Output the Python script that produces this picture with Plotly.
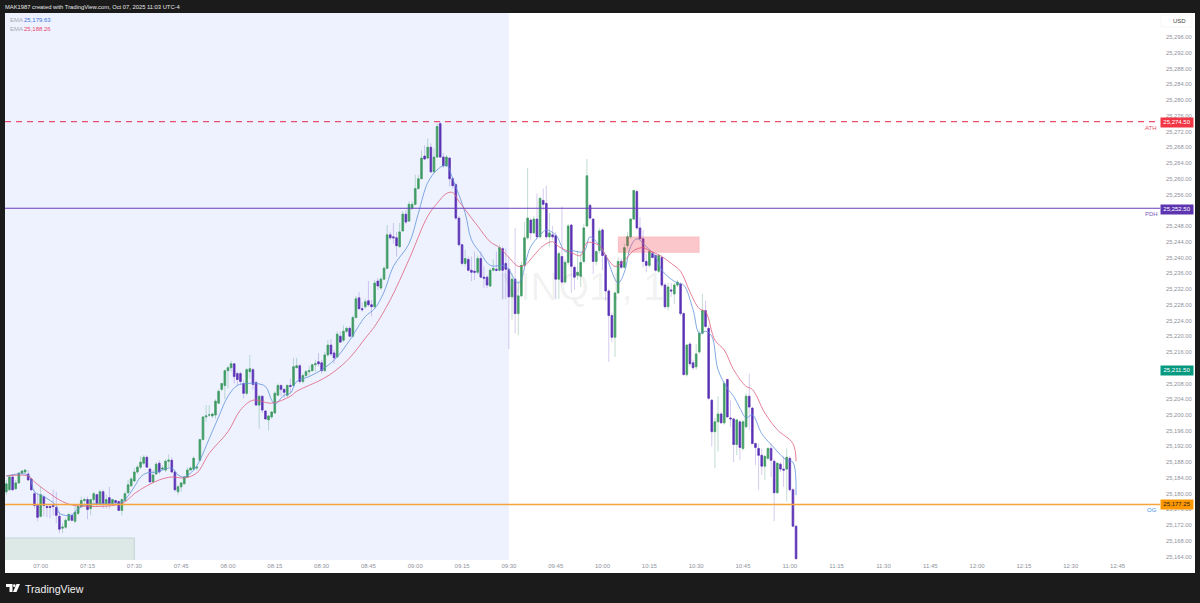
import pandas as pd
import plotly.graph_objects as go

# 1 minute bars, first one at 06:49
opens = [25180.5,25181.0,25184.25,25181.25,25182.75,25185.25,25185.5,25185.0,25183.75,25180.0,
25177.0,25174.25,25179.25,25176.75,25176.75,25177.0,25176.5,25174.25,25171.25,25171.5,
25173.25,25174.5,25173.0,25175.0,25176.75,25178.25,25178.5,25176.25,25178.5,25179.75,
25177.5,25180.5,25177.5,25179.0,25177.5,25178.25,25178.0,25175.75,25178.25,25180.25,
25182.0,25183.25,25185.5,25186.75,25187.75,25189.25,25186.25,25183.0,25185.0,25187.75,
25186.25,25186.0,25188.25,25188.5,25185.5,25180.5,25181.75,25182.5,25184.25,25186.0,
25186.25,25186.5,25188.5,25193.75,25199.5,25200.0,25199.75,25200.0,25203.0,25206.5,
25207.5,25211.25,25212.0,25213.0,25210.5,25210.5,25208.0,25205.5,25211.0,25211.5,
25208.25,25202.5,25204.75,25201.0,25198.75,25199.5,25200.5,25205.0,25207.5,25206.5,
25205.0,25207.5,25207.5,25212.0,25212.5,25208.5,25210.0,25211.0,25211.25,25212.75,
25213.5,25213.25,25211.25,25215.25,25217.75,25215.75,25214.75,25220.0,25219.0,25221.25,
25222.0,25220.0,25224.75,25229.75,25227.0,25227.5,25229.0,25228.0,25227.5,25234.0,
25232.25,25234.5,25237.25,25245.75,25245.25,25245.0,25242.75,25246.75,25251.0,25249.25,
25252.5,25253.5,25257.5,25260.0,25265.75,25265.25,25268.0,25261.75,25265.5,25274.0,
25265.5,25263.25,25265.25,25260.0,25258.5,25250.0,25243.25,25238.5,25239.5,25236.75,
25236.5,25236.25,25239.75,25235.0,25235.0,25232.75,25236.75,25237.0,25236.75,25242.25,
25238.5,25237.0,25230.0,25234.5,25225.75,25230.25,25238.0,25245.0,25249.5,25246.25,
25249.75,25245.25,25254.5,25253.75,25245.25,25245.75,25245.5,25234.5,25240.25,25233.75,
25238.75,25248.25,25237.5,25235.5,25235.25,25239.0,25248.0,25253.25,25249.75,25239.0,
25241.75,25247.0,25240.5,25231.5,25225.25,25219.75,25231.0,25239.0,25237.5,25243.0,
25245.25,25249.75,25256.75,25247.5,25244.75,25239.0,25238.0,25241.0,25240.5,25236.5,
25240.0,25233.0,25227.5,25231.75,25230.75,25233.0,25233.25,25225.75,25210.25,25218.0,
25213.25,25212.25,25216.0,25220.75,25226.5,25222.0,25203.75,25195.75,25198.25,25200.25,
25198.0,25209.0,25199.25,25199.0,25192.5,25198.25,25191.5,25197.0,25204.75,25201.75,
25192.75,25191.5,25189.75,25187.0,25189.0,25191.5,25188.25,25180.25,25187.5,25186.25,
25186.25,25189.0,25181.0,25171.75]
highs = [25183.5,25184.5,25184.5,25183.5,25185.5,25186.0,25186.25,25186.0,25184.0,25181.0,
25180.0,25181.75,25179.75,25177.5,25177.5,25181.0,25180.5,25175.5,25172.5,25173.75,
25175.0,25175.0,25177.0,25177.0,25179.25,25179.0,25179.25,25178.5,25180.5,25180.0,
25181.0,25181.0,25179.75,25181.75,25178.75,25178.5,25178.25,25178.75,25180.5,25183.5,
25184.25,25186.5,25187.25,25189.5,25189.75,25189.75,25186.75,25186.0,25188.0,25188.5,
25187.25,25188.75,25190.0,25189.25,25186.0,25182.25,25183.0,25184.5,25186.75,25187.0,
25189.5,25187.0,25194.0,25199.75,25202.5,25202.5,25200.5,25204.0,25206.5,25208.0,
25211.5,25212.5,25213.75,25213.0,25211.0,25211.0,25208.75,25212.0,25215.25,25212.0,
25208.75,25205.0,25205.0,25201.25,25200.0,25201.0,25206.0,25208.0,25207.75,25206.75,
25207.75,25209.25,25214.5,25214.5,25213.0,25210.5,25211.5,25212.5,25213.0,25214.0,
25215.75,25214.0,25216.0,25219.0,25219.25,25216.5,25221.25,25221.25,25222.75,25222.5,
25222.5,25225.25,25230.25,25231.25,25228.5,25229.5,25234.0,25229.25,25234.25,25234.75,
25235.0,25237.75,25248.25,25246.5,25248.75,25246.5,25248.75,25251.75,25252.0,25254.25,
25254.25,25261.0,25261.0,25267.25,25268.5,25270.25,25269.0,25267.75,25274.0,25274.5,
25266.5,25266.0,25265.5,25260.5,25259.0,25250.5,25243.5,25242.0,25240.25,25240.25,
25241.5,25240.5,25241.5,25237.75,25235.5,25237.25,25239.5,25241.5,25243.25,25242.75,
25242.25,25240.25,25236.0,25247.5,25234.0,25239.0,25249.0,25262.75,25250.0,25250.5,
25256.25,25255.5,25257.5,25258.25,25251.25,25248.0,25246.5,25241.5,25253.0,25239.5,
25248.5,25248.5,25238.0,25241.75,25241.0,25248.5,25265.0,25253.75,25250.0,25241.75,
25247.5,25247.5,25241.0,25232.0,25226.0,25231.25,25240.0,25239.75,25243.5,25246.5,
25250.0,25257.25,25257.25,25250.25,25247.0,25241.0,25242.0,25241.5,25241.0,25241.0,
25240.5,25233.5,25233.5,25233.5,25233.5,25234.25,25233.75,25226.25,25218.0,25218.5,
25214.0,25218.0,25221.5,25230.75,25229.0,25222.75,25204.0,25199.25,25204.75,25200.75,
25208.5,25209.25,25203.75,25199.25,25199.0,25198.75,25198.75,25205.5,25210.5,25202.0,
25193.0,25192.75,25191.5,25189.75,25191.75,25192.75,25188.75,25188.0,25188.0,25189.5,
25191.5,25189.5,25181.5,25172.0]
lows = [25179.75,25180.75,25180.75,25181.0,25182.5,25185.0,25185.25,25183.25,25180.75,25176.25,
25173.0,25174.0,25174.25,25174.0,25173.75,25174.5,25172.5,25170.0,25170.0,25171.0,
25173.0,25173.0,25172.5,25174.5,25176.25,25177.5,25173.5,25174.5,25177.0,25176.75,
25177.0,25176.25,25176.25,25176.25,25177.0,25177.5,25175.75,25174.5,25178.0,25180.0,
25181.75,25183.0,25185.0,25186.25,25187.25,25186.75,25182.75,25182.75,25184.75,25185.0,
25186.0,25185.5,25186.75,25185.5,25180.5,25179.75,25180.5,25182.5,25184.0,25186.0,
25186.0,25186.0,25188.25,25193.5,25198.25,25199.5,25199.25,25199.0,25202.75,25206.0,
25204.0,25206.75,25211.0,25208.0,25207.5,25207.75,25204.25,25205.0,25209.25,25206.5,
25202.5,25196.5,25200.5,25198.75,25196.0,25199.0,25200.25,25205.0,25204.75,25204.25,
25204.5,25205.5,25207.25,25212.0,25208.0,25208.0,25209.75,25210.0,25211.0,25211.0,
25212.25,25210.5,25211.0,25214.75,25215.0,25213.0,25214.5,25218.5,25218.5,25220.75,
25219.75,25219.5,25224.5,25226.75,25226.25,25227.0,25227.5,25225.0,25227.0,25231.75,
25231.75,25234.25,25237.0,25244.5,25243.5,25240.25,25242.5,25246.5,25248.5,25249.0,
25252.0,25253.25,25257.25,25260.0,25264.75,25265.0,25261.5,25261.5,25265.25,25265.25,
25262.75,25263.0,25258.0,25257.5,25249.5,25242.75,25238.0,25237.75,25236.5,25234.0,
25234.25,25235.75,25234.75,25232.25,25232.25,25232.5,25236.5,25236.5,25236.5,25229.5,
25229.5,25216.75,25224.25,25220.75,25220.25,25230.0,25237.75,25244.5,25244.5,25246.0,
25244.5,25244.75,25252.0,25244.5,25242.75,25244.5,25229.5,25229.5,25233.25,25233.5,
25238.0,25231.0,25231.75,25234.25,25232.5,25238.5,25247.75,25249.5,25235.75,25238.0,
25241.0,25236.75,25229.0,25213.5,25218.5,25214.75,25230.75,25237.0,25237.25,25242.25,
25244.75,25249.5,25247.0,25244.5,25237.5,25236.25,25237.5,25239.75,25236.25,25236.0,
25232.5,25227.0,25226.5,25230.0,25228.25,25232.5,25225.25,25210.0,25209.75,25212.25,
25211.5,25211.5,25215.5,25220.5,25222.0,25203.75,25192.0,25186.5,25190.75,25197.75,
25197.5,25199.25,25197.0,25188.0,25189.75,25188.5,25191.0,25196.5,25196.25,25192.5,
25187.25,25181.0,25184.75,25183.5,25188.5,25184.25,25173.0,25180.0,25185.5,25181.75,
25178.0,25180.5,25171.5,25163.25]
closes = [25182.5,25184.25,25181.0,25182.75,25185.25,25185.75,25186.0,25183.5,25181.0,25177.0,
25174.0,25179.75,25177.0,25176.5,25176.5,25176.75,25174.5,25171.0,25171.5,25173.25,
25174.75,25173.25,25175.25,25176.75,25178.25,25178.5,25176.0,25178.5,25180.0,25177.5,
25180.5,25177.5,25178.5,25177.5,25178.5,25177.75,25175.75,25178.5,25180.0,25182.25,
25183.75,25185.5,25186.75,25188.0,25189.25,25186.75,25183.0,25184.75,25187.5,25185.5,
25186.5,25188.25,25188.5,25185.5,25181.0,25181.75,25182.75,25184.25,25186.0,25186.5,
25189.0,25186.75,25193.75,25199.5,25199.75,25200.0,25200.25,25203.5,25206.0,25208.0,
25211.25,25212.0,25213.0,25209.75,25209.0,25208.5,25205.5,25211.5,25211.75,25207.75,
25202.5,25204.75,25201.25,25199.0,25199.75,25200.75,25205.5,25207.5,25206.5,25205.75,
25207.5,25207.25,25212.25,25212.5,25208.5,25210.0,25211.0,25211.25,25212.75,25213.0,
25213.0,25211.25,25215.25,25217.75,25215.5,25214.5,25220.5,25218.5,25221.25,25222.0,
25220.0,25224.75,25229.5,25227.0,25226.75,25228.75,25228.0,25227.5,25233.5,25232.75,
25234.5,25237.25,25245.75,25245.0,25245.0,25243.0,25246.5,25251.0,25249.0,25253.5,
25253.5,25257.5,25260.0,25265.25,25265.0,25268.0,25261.75,25265.5,25273.25,25265.5,
25263.25,25265.5,25260.0,25258.25,25250.0,25243.25,25238.5,25239.75,25236.75,25236.25,
25236.25,25239.75,25235.0,25234.75,25233.0,25236.75,25237.25,25236.75,25242.5,25236.75,
25237.0,25230.0,25234.5,25225.75,25230.25,25238.0,25245.0,25250.0,25246.25,25249.75,
25245.25,25255.0,25253.5,25245.25,25246.25,25245.25,25234.5,25241.0,25233.75,25238.75,
25248.0,25237.75,25235.0,25236.25,25238.75,25247.5,25260.75,25250.0,25239.0,25241.5,
25246.75,25240.5,25231.5,25225.25,25219.75,25231.0,25239.0,25237.5,25242.5,25245.25,
25249.75,25257.0,25247.5,25244.75,25239.0,25238.0,25241.5,25240.0,25236.75,25240.5,
25233.0,25227.5,25232.5,25231.5,25233.0,25233.75,25225.75,25210.25,25217.75,25213.0,
25212.0,25215.5,25220.75,25226.5,25222.5,25204.25,25195.75,25198.25,25200.25,25198.0,
25208.0,25199.5,25199.0,25192.5,25198.75,25191.75,25198.25,25204.75,25202.0,25192.75,
25191.75,25189.75,25187.0,25189.5,25191.5,25188.5,25180.25,25187.75,25186.25,25186.0,
25189.25,25181.0,25171.75,25163.5]

ema_fast_times = ["06:49","06:56","06:58","07:01","07:05","07:06","07:10","07:11","07:14","07:19","07:25","07:27",
"07:30","07:32","07:34","07:37","07:42","07:44","07:46","07:49","07:51","07:54","07:57","08:00","08:03","08:06",
"08:09","08:12","08:14","08:15","08:18","08:20","08:22","08:26","08:31","08:35","08:39","08:44","08:47","08:50",
"08:53","08:58","09:01","09:04","09:07","09:10","09:12","09:16","09:18","09:21","09:24","09:29","09:33","09:37",
"09:41","09:42","09:45","09:48","09:50","09:54","09:56","09:59","10:01","10:05","10:07","10:09","10:11","10:14",
"10:17","10:19","10:22","10:24","10:26","10:29","10:31","10:33","10:35","10:37","10:40","10:42","10:44","10:46",
"10:48","10:51","10:54","10:59","11:01","11:02"]
ema_fast_values = [25184.5,25184.75,25180.5,25179.25,25177.0,25175.0,25174.5,25175.5,25177.0,25177.5,25177.5,25178.5,
25181.75,25184.25,25185.25,25185.5,25186.5,25184.75,25184.25,25186.0,25188.5,25194.0,25199.5,25204.75,25207.5,25208.0,
25208.0,25207.25,25203.75,25202.75,25205.0,25205.5,25208.5,25209.75,25212.0,25214.75,25219.0,25225.0,25227.0,25231.25,
25237.75,25243.5,25251.25,25259.0,25262.25,25263.5,25260.0,25251.25,25244.5,25241.0,25238.0,25237.75,25233.5,25242.75,
25246.5,25247.0,25245.75,25241.5,25241.75,25241.5,25245.25,25243.0,25240.5,25233.5,25236.25,25242.75,25244.75,25242.75,
25240.25,25236.75,25234.5,25233.5,25233.0,25226.75,25220.75,25221.25,25220.0,25211.5,25206.75,25204.75,25201.75,25199.25,
25200.0,25195.25,25192.5,25188.5,25188.0,25179.63]
ema_slow_times = ["06:49","06:56","06:58","07:03","07:07","07:11","07:26","07:30","07:34","07:38","07:42","07:46",
"07:50","07:54","08:00","08:04","08:08","08:14","08:20","08:22","08:30","08:34","08:39","08:44","08:47","08:52",
"08:58","09:04","09:07","09:10","09:12","09:14","09:20","09:24","09:27","09:30","09:33","09:35","09:38","09:41",
"09:44","09:46","09:50","09:53","09:55","09:59","10:01","10:04","10:07","10:10","10:13","10:15","10:19","10:22",
"10:25","10:28","10:31","10:33","10:36","10:39","10:42","10:46","10:48","10:52","10:56","11:01","11:02"]
ema_slow_values = [25184.5,25184.5,25183.0,25180.0,25178.0,25177.0,25177.5,25180.0,25182.0,25183.5,25184.25,25184.0,
25185.25,25190.25,25195.75,25201.25,25203.75,25203.0,25204.75,25206.0,25209.0,25211.0,25214.5,25219.5,25222.5,25229.25,
25239.5,25250.5,25253.75,25256.25,25256.5,25254.25,25248.0,25244.0,25242.5,25240.0,25237.75,25238.0,25240.5,25243.0,
25244.0,25242.75,25241.25,25240.5,25243.75,25243.0,25240.5,25237.75,25239.25,25241.75,25242.5,25241.75,25240.25,25238.5,
25236.5,25231.25,25227.0,25226.25,25219.0,25216.5,25211.5,25207.25,25206.5,25200.5,25196.25,25192.75,25188.26]

# 25,212 and 25,252 sit behind the price labels on the original, so they are not listed
price_ticks = [p for p in range(25164, 25300, 4) if p not in (25212, 25252)]
time_ticks = ["07:00","07:15","07:30","07:45","08:00","08:15","08:30","08:45","09:00","09:15","09:30","09:45",
"10:00","10:15","10:30","10:45","11:00","11:15","11:30","11:45","12:00","12:15","12:30","12:45"]

DAY = "2025-10-07 "
GREEN = "#3F9C63"
PURPLE = "#5A32B4"
W, H = 1200, 603
L, R, T, B = 5, 1160, 13, 560

def px(x):
    return (x - L) / (R - L)

def py(y):
    return (B - y) / (B - T)

def stamp(t):
    return pd.Timestamp(DAY + t)

bar_times = pd.date_range(DAY + "06:49", periods=len(opens), freq="min")
body_high = [max(o, c) for o, c in zip(opens, closes)]
body_low = [min(o, c) for o, c in zip(opens, closes)]

fig = go.Figure()
# pale wicks first, then solid bodies on top of them
fig.add_trace(go.Candlestick(x=bar_times, open=opens, high=highs, low=lows, close=closes,
    increasing=dict(line=dict(color="rgba(85,160,125,0.45)", width=0.8), fillcolor="rgba(0,0,0,0)"),
    decreasing=dict(line=dict(color="rgba(125,90,200,0.4)", width=0.8), fillcolor="rgba(0,0,0,0)"),
    whiskerwidth=0, showlegend=False, hoverinfo="skip"))
fig.add_trace(go.Candlestick(x=bar_times, open=opens, high=body_high, low=body_low, close=closes,
    increasing=dict(line=dict(color=GREEN, width=0.6), fillcolor=GREEN),
    decreasing=dict(line=dict(color=PURPLE, width=0.6), fillcolor=PURPLE),
    whiskerwidth=0, showlegend=False, hoverinfo="skip"))
fig.add_trace(go.Scatter(x=[stamp(t) for t in ema_fast_times], y=ema_fast_values, mode="lines",
    line=dict(color="#5F93DC", width=0.8, shape="spline"), showlegend=False, hoverinfo="skip"))
fig.add_trace(go.Scatter(x=[stamp(t) for t in ema_slow_times], y=ema_slow_values, mode="lines",
    line=dict(color="#DE5F7C", width=0.8, shape="spline"), showlegend=False, hoverinfo="skip"))

# white panel on the dark page
fig.add_shape(type="rect", xref="paper", yref="paper", x0=px(5), x1=px(1195), y0=py(13), y1=py(573),
    fillcolor="white", line_width=0, layer="below")
# pre market session, up to 09:30
fig.add_shape(type="rect", xref="x", yref="paper", x0=stamp("06:40"), x1=stamp("09:30"), y0=0, y1=1,
    fillcolor="#EEF2FF", line_width=0, layer="below")
fig.add_shape(type="rect", xref="x", yref="y", x0=stamp("06:40"), x1=stamp("07:30"), y0=25160, y1=25168.75,
    fillcolor="#DCE9E6", line=dict(color="#C4D4D6", width=1), layer="below")
fig.add_shape(type="rect", xref="x", yref="y", x0=stamp("10:05"), x1=stamp("10:31"), y0=25241.25, y1=25245.25,
    fillcolor="rgba(242,54,69,0.28)", line=dict(color="rgba(242,54,69,0.12)", width=1))
fig.add_hline(y=25274.5, line=dict(color="#E5506A", width=1.4, dash="6px,5px"))
fig.add_hline(y=25252.5, line=dict(color="#6A3DBD", width=1.2))
fig.add_hline(y=25177.25, line=dict(color="#F5A53A", width=1.5))

# TradingView mark
fig.add_shape(type="path", xref="paper", yref="paper", fillcolor="white", line_width=0,
    path=f"M {px(6)} {py(584)} L {px(12.5)} {py(584)} L {px(12.5)} {py(592)} L {px(9.5)} {py(592)} L {px(9.5)} {py(587)} L {px(6)} {py(587)} Z")
fig.add_shape(type="circle", xref="paper", yref="paper", fillcolor="white", line_width=0,
    x0=px(13), x1=px(15.6), y0=py(587), y1=py(584.3))
fig.add_shape(type="path", xref="paper", yref="paper", fillcolor="white", line_width=0,
    path=f"M {px(16.5)} {py(584)} L {px(20)} {py(584)} L {px(16.5)} {py(592)} L {px(13)} {py(592)} Z")
# box round the currency label
fig.add_shape(type="rect", xref="paper", yref="paper", x0=px(1161), x1=px(1192), y0=py(15), y1=py(27),
    fillcolor="white", line=dict(color="#F0F0F0", width=0.6))

def label(text, x, y, size=6, color="#787B86", anchor="left", **kw):
    fig.add_annotation(text=text, xref="paper", yref="paper", x=px(x), y=py(y), xanchor=anchor, yanchor="middle",
        showarrow=False, font=dict(size=size, color=color), borderpad=0, **kw)

label("MAK1987 created with TradingView.com, Oct 07, 2025 11:03 UTC-4", 4, 7, size=5.8, color="#E6E6E6")
label("EMA", 9, 20.5, color="#A6A8B0")
label("25,179.63", 23, 20.5, color="#3F74D8")
label("EMA", 9, 29, color="#A6A8B0")
label("25,188.26", 23, 29, color="#E8436E")
label("USD", 1172, 21, size=6, color="#444444")
label("TradingView", 23.5, 588.5, size=10.6, color="#F2F2F2")
label("MNQ1!, 1", 581, 286, size=39, color="rgba(60,60,70,0.07)", anchor="center")
label("ATH", 1151, 127.5, color="#E5506A", anchor="center")
label("PDH", 1151, 214, color="#7E57C2", anchor="center")
label("OG", 1152, 510, color="#3D8FE0", anchor="center")
for value, y, bg, fg in [("25,274.50", 122, "#F23645", "white"), ("25,252.50", 209, "#5E35B1", "white"),
                         ("25,211.50", 370.5, "#089981", "white"), ("25,177.25", 505, "#FF9800", "#222222")]:
    label(value, 1160, y, size=6, color=fg, bgcolor=bg, width=32, height=8.5, align="center")

fig.update_layout(
    width=W, height=H, margin=dict(l=L, r=W - R, t=T, b=H - B, pad=0),
    paper_bgcolor="#1B1B1B", plot_bgcolor="rgba(0,0,0,0)",
    font=dict(family="Liberation Sans, Arial, sans-serif"), showlegend=False, boxgap=0.25,
    xaxis=dict(type="date", range=[DAY + "06:48:34", DAY + "12:58:36"], rangeslider_visible=False,
        showgrid=False, zeroline=False, showline=False, ticks="",
        tickmode="array", tickvals=[DAY + t for t in time_ticks], ticktext=time_ticks,
        tickfont=dict(size=6, color="#8F929B"), ticklabelstandoff=1),
    yaxis=dict(side="right", range=[25163.16, 25302.1], showgrid=False, zeroline=False, showline=False, ticks="",
        tickmode="array", tickvals=price_ticks, ticktext=[f"{p:,.2f}" for p in price_ticks],
        tickfont=dict(size=5.8, color="#8F929B"), ticklabelstandoff=5),
)

# the page's default body margin would push the figure 8px off
fig.write_html("out.html", config=dict(displayModeBar=False), post_script="document.body.style.margin='0';")
